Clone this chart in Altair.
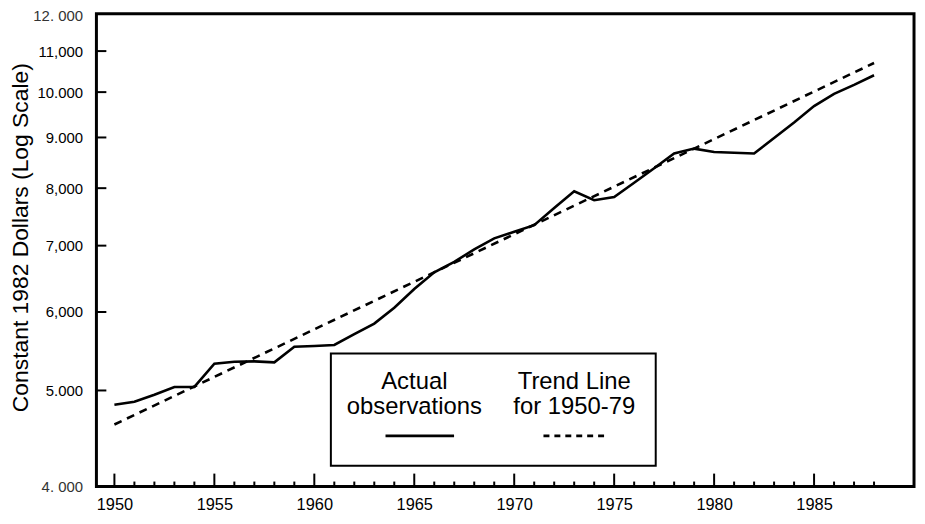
import altair as alt
import pandas as pd

# ---- data ----
years = list(range(1950, 1989))
actual = [4836, 4870, 4950, 5041, 5041, 5320, 5345, 5350, 5338, 5534,
          5545, 5557, 5700, 5840, 6060, 6330, 6580, 6740, 6940, 7120,
          7230, 7340, 7640, 7941, 7780, 7836, 8100, 8380, 8670, 8770,
          8700, 8685, 8670, 8990, 9320, 9680, 9960, 10170, 10400]
trend_years = [1950, 1988]
trend_values = [4620, 10700]

major_years = [1950, 1955, 1960, 1965, 1970, 1975, 1980, 1985]
minor_years = [y for y in years if y not in major_years]
y_tick_values = [5000, 6000, 7000, 8000, 9000, 10000, 11000]
y_label_values = [4000, 5000, 6000, 7000, 8000, 9000, 10000, 11000, 12000]
y_label_texts = ["4. 000", "5.000", "6,000", "7,000", "8,000", "9.000",
                 "10.000", "11,000", "12. 000"]
legend_left = ["Actual", "observations"]
legend_right = ["Trend Line", "for 1950-79"]
y_title = "Constant 1982 Dollars (Log Scale)"

W, H = 823, 476
FONT = "Liberation Sans, Arial, Helvetica, sans-serif"

actual_df = pd.DataFrame({"year": years, "value": actual})
trend_df = pd.DataFrame({"year": trend_years, "value": trend_values})
major_df = pd.DataFrame({"year": major_years})
minor_df = pd.DataFrame({"year": minor_years})
yt_df = pd.DataFrame({"value": y_tick_values})

label_map = "{" + ",".join(f"'{v}':'{t}'" for v, t in zip(y_label_values, y_label_texts)) + "}"

xscale = alt.Scale(domain=[1949.1, 1990], nice=False, zero=False)
yscale = alt.Scale(type="log", domain=[4000, 12000], nice=False)

xaxis = alt.Axis(values=major_years, format="d", title=None, ticks=False,
                 domain=False, grid=False, labelFontSize=16.5, labelPadding=10,
                 labelFont=FONT, labelColor="black", labelFlush=False)
yaxis = alt.Axis(values=y_label_values, labelExpr=f"{label_map}[''+datum.value]",
                 title=y_title, ticks=False, domain=False, grid=False,
                 labelFontSize=15, labelPadding=14, labelFont=FONT,
                 labelColor={"condition": {"test": "datum.value == 4000 || datum.value == 12000", "value": "#333"}, "value": "black"},
                 labelOffset={"condition": {"test": "datum.value == 12000", "value": 2}, "value": 0},
                 titleFont=FONT, titleFontSize=23, titleFontWeight="normal", titleColor="black",
                 titleAngle=270, titleBaseline="middle", titleAlign="center",
                 titleX=-76, titleY=225, labelBound=False)

actual_line = alt.Chart(actual_df).mark_line(color="black", strokeWidth=2.6).encode(
    x=alt.X("year:Q", scale=xscale, axis=xaxis),
    y=alt.Y("value:Q", scale=yscale, axis=yaxis),
)
trend_line = alt.Chart(trend_df).mark_line(color="black", strokeWidth=2.6, strokeDash=[8, 6]).encode(
    x=alt.X("year:Q", scale=xscale),
    y=alt.Y("value:Q", scale=yscale),
)

major_ticks = alt.Chart(major_df).mark_rule(color="black", strokeWidth=2).encode(
    x=alt.X("year:Q", scale=xscale), y=alt.value(H), y2=alt.value(H - 13))
minor_ticks = alt.Chart(minor_df).mark_rule(color="black", strokeWidth=2).encode(
    x=alt.X("year:Q", scale=xscale), y=alt.value(H), y2=alt.value(H - 5))
y_ticks = alt.Chart(yt_df).mark_rule(color="black", strokeWidth=2).encode(
    y=alt.Y("value:Q", scale=yscale), x=alt.value(0), x2=alt.value(10))

# legend box
one = pd.DataFrame({"k": [0]})
box = alt.Chart(one).mark_rect(fill="white", stroke="black", strokeWidth=2).encode(
    x=alt.value(236), x2=alt.value(563), y=alt.value(342), y2=alt.value(455))


def legend_text(txt, x, y):
    return alt.Chart(one).mark_text(font=FONT, fontSize=24, color="black", align="center",
                                    baseline="middle").encode(
        text=alt.value(txt), x=alt.value(x), y=alt.value(y))


texts = [legend_text(legend_left[0], 320, 371), legend_text(legend_left[1], 320, 396),
         legend_text(legend_right[0], 481, 371), legend_text(legend_right[1], 481, 396)]

solid_key = alt.Chart(one).mark_rule(color="black", strokeWidth=2.6).encode(
    x=alt.value(291), x2=alt.value(360), y=alt.value(425))
dash_key = alt.Chart(one).mark_rule(color="black", strokeWidth=2.6, strokeDash=[6, 5]).encode(
    x=alt.value(450), x2=alt.value(514), y=alt.value(425))

chart = alt.layer(
    actual_line, trend_line, major_ticks, minor_ticks, y_ticks,
    box, *texts, solid_key, dash_key,
).properties(
    width=W, height=H,
    autosize=alt.AutoSizeParams(type="none"),
    padding={"left": 89, "top": 4, "right": 3, "bottom": 28},
    background="white",
).configure_view(stroke="black", strokeWidth=3)

chart.save("out.html", embed_options={"renderer": "svg", "actions": False})
